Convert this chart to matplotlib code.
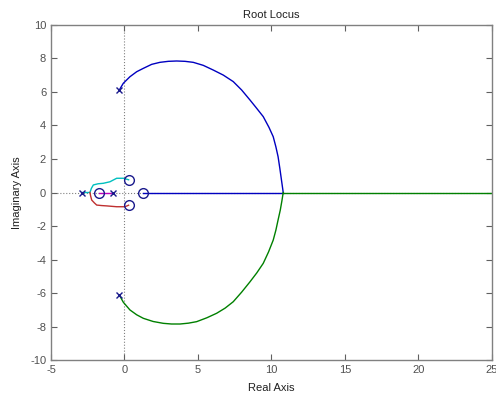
import numpy as np
import matplotlib
matplotlib.use("Agg")
import matplotlib.pyplot as plt

plt.rcParams['font.family'] = ['Liberation Sans', 'DejaVu Sans']
plt.rcParams['axes.unicode_minus'] = False

# Open-loop poles and zeros
pole_re = [-0.35, -0.35, -2.9, -0.76]
pole_im = [6.12, -6.12, 0.0, 0.0]
zero_re = [-1.72, 1.25, 0.28, 0.28]
zero_im = [0.0, 0.0, 0.76, -0.76]

# Complex branch leaving the upper pole, meeting the real axis near 10.8
upper_re = [-0.35, -0.08, 0.37, 0.83, 1.28, 1.85, 2.41, 2.98, 3.55, 4.12, 4.68,
            5.36, 6.04, 6.72, 7.40, 7.97, 8.54, 8.99, 9.44, 9.83, 10.12, 10.30,
            10.45, 10.57, 10.68, 10.8]
upper_im = [6.12, 6.52, 6.91, 7.21, 7.41, 7.65, 7.77, 7.83, 7.85, 7.83, 7.77,
            7.59, 7.31, 7.01, 6.62, 6.12, 5.52, 5.03, 4.53, 3.89, 3.33, 2.73,
            2.14, 1.44, 0.75, 0.0]
# Complex branch leaving the lower pole
lower_re = [-0.35, -0.08, 0.37, 0.83, 1.28, 1.95, 2.64, 3.20, 3.78, 4.35, 4.91,
            5.60, 6.27, 6.85, 7.40, 7.97, 8.54, 9.00, 9.44, 9.80, 10.12, 10.30,
            10.45, 10.60, 10.71, 10.8]
lower_im = [-6.12, -6.55, -7.01, -7.30, -7.51, -7.70, -7.81, -7.85, -7.85, -7.80, -7.71,
            -7.48, -7.21, -6.90, -6.52, -5.95, -5.33, -4.80, -4.23, -3.55, -2.84, -2.25,
            -1.64, -1.05, -0.50, 0.0]
# Real-axis branches after the break-in point
blue_real = [10.8, 1.25]
green_real = [10.8, 25.0]

# Small branches near the origin
cyan_re = [-2.9, -2.35, -2.25, -2.12, -1.80, -1.44, -0.99, -0.75, -0.53, -0.08, 0.28]
cyan_im = [0.0, 0.0, 0.25, 0.45, 0.52, 0.55, 0.64, 0.75, 0.85, 0.85, 0.76]
red_re = [-2.35, -2.30, -2.23, -2.05, -1.89, -1.55, -1.21, -0.53, 0.03, 0.28]
red_im = [0.0, -0.22, -0.45, -0.62, -0.75, -0.78, -0.80, -0.85, -0.85, -0.76]
mag_re = [-0.76, -1.72]

fig = plt.figure(figsize=(4.96, 4.01), dpi=100)
ax = fig.add_axes([0.1028, 0.1022, 0.889, 0.8355])

grey = '#808080'
ax.axhline(0, color=grey, ls=':', lw=0.8, zorder=1)
ax.axvline(0, color=grey, ls=':', lw=0.8, zorder=1)

ax.plot(upper_re, upper_im, color='#0000c0', lw=1.0, zorder=2)
ax.plot(blue_real, [0, 0], color='#0000c0', lw=1.0, zorder=2)
ax.plot(lower_re, lower_im, color='#008000', lw=1.0, zorder=2)
ax.plot(green_real, [0, 0], color='#008000', lw=1.0, zorder=2)
ax.plot(cyan_re, cyan_im, color='#00bfbf', lw=1.0, zorder=2)
ax.plot(red_re, red_im, color='#bf3030', lw=1.0, zorder=2)
ax.plot(mag_re, [0, 0], color='#bf00bf', lw=1.0, zorder=2)

mk = '#1a1a8c'
ax.plot(pole_re, pole_im, ls='none', marker='x', ms=5, mew=1.0, color=mk, zorder=3)
ax.plot(zero_re, zero_im, ls='none', marker='o', ms=7, mew=1.0, mfc='none', mec=mk, zorder=3)

ax.set_xlim(-5, 25)
ax.set_ylim(-10, 10)
ax.set_xticks(np.arange(-5, 26, 5))
ax.set_yticks(np.arange(-10, 11, 2))
ax.tick_params(direction='in', length=4, width=0.8, colors='#606060',
               labelcolor='#505050', labelsize=8, top=True, right=True)
for s in ax.spines.values():
    s.set_color('#808080')
    s.set_linewidth(1.0)

ax.set_title('Root Locus', fontsize=8, color='#202020', pad=5)
ax.set_xlabel('Real Axis', fontsize=8, color='#202020', labelpad=6)
ax.set_ylabel('Imaginary Axis', fontsize=8, color='#202020', labelpad=6)

fig.savefig('out.png', dpi=100)
